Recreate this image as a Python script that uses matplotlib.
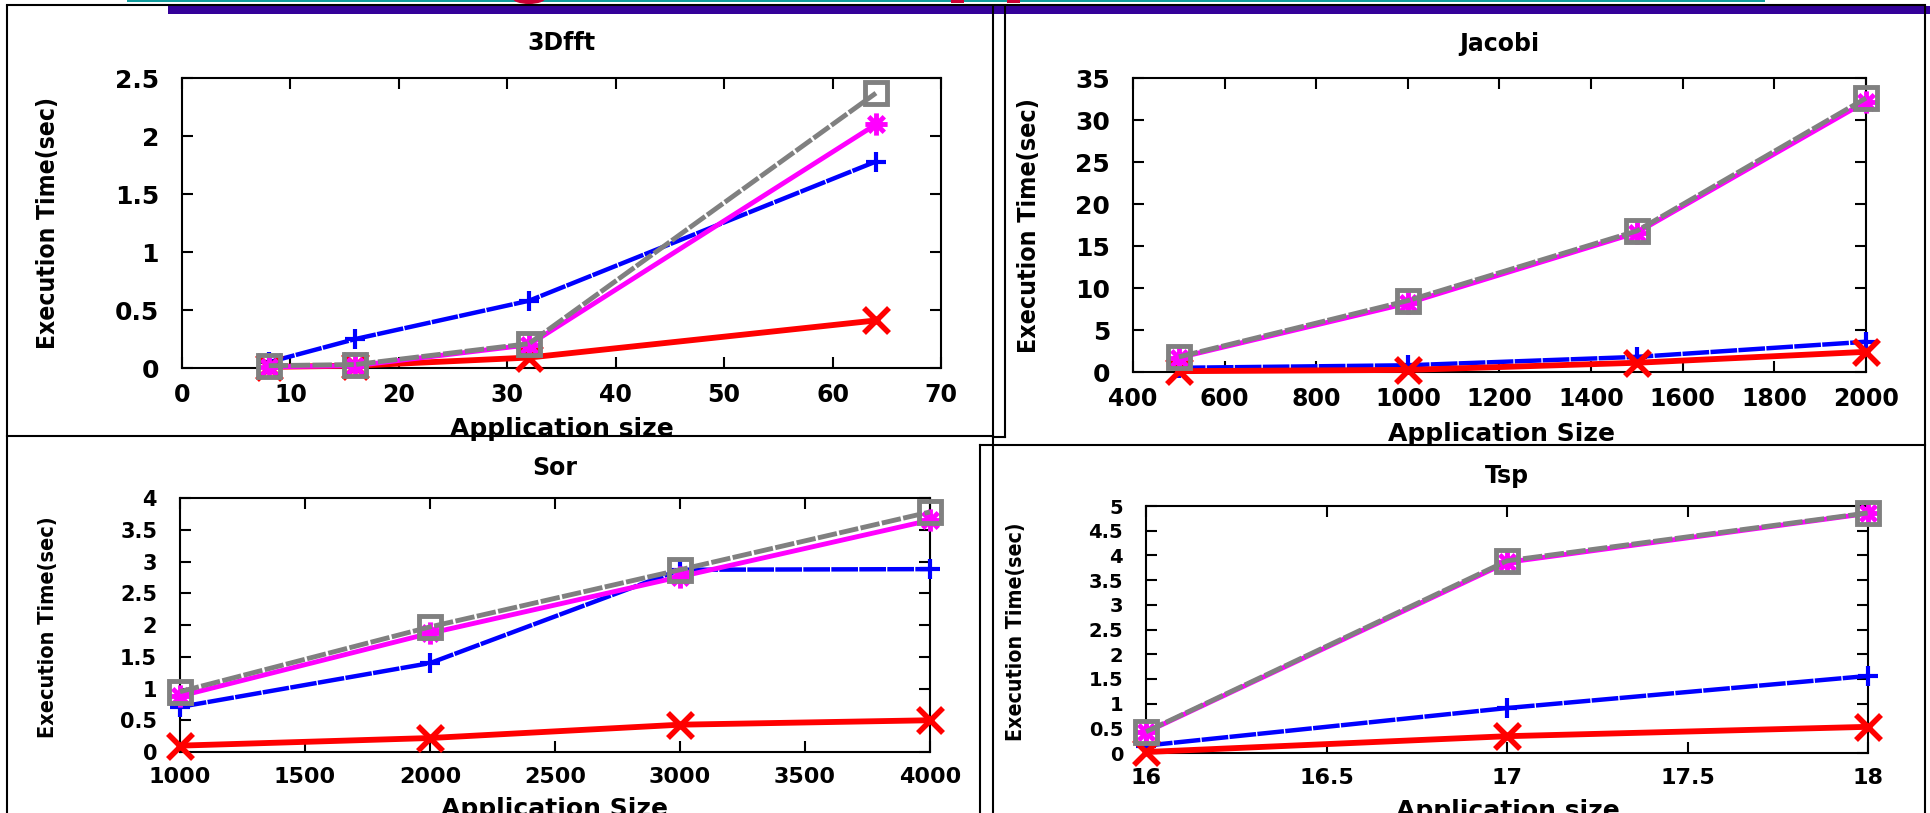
import matplotlib
matplotlib.use('Agg')
import matplotlib.pyplot as plt
from matplotlib.path import Path
from matplotlib.patches import Rectangle, Ellipse
from matplotlib.ticker import MultipleLocator, FormatStrFormatter
from matplotlib import font_manager

W, H = 1931, 813

# 3Dfft
fft_sizes = [8, 16, 32, 64]
fft_blue = [0.05, 0.25, 0.58, 1.78]
fft_red = [0.01, 0.02, 0.09, 0.41]
fft_magenta = [0.01, 0.02, 0.20, 2.10]
fft_gray = [0.02, 0.03, 0.21, 2.37]

# Jacobi
jacobi_sizes = [500, 1000, 1500, 2000]
jacobi_blue = [0.5, 0.8, 1.8, 3.6]
jacobi_red = [0.1, 0.25, 1.1, 2.4]
jacobi_magenta = [1.7, 8.2, 16.6, 32.2]
jacobi_gray = [1.8, 8.5, 16.8, 32.6]

# Sor
sor_sizes = [1000, 2000, 3000, 4000]
sor_blue = [0.71, 1.40, 2.87, 2.88]
sor_red = [0.10, 0.22, 0.43, 0.50]
sor_magenta = [0.88, 1.87, 2.76, 3.65]
sor_gray = [0.95, 1.97, 2.87, 3.78]

# Tsp
tsp_sizes = [16, 17, 18]
tsp_blue = [0.15, 0.91, 1.56]
tsp_red = [0.02, 0.34, 0.53]
tsp_magenta = [0.42, 3.86, 4.85]
tsp_gray = [0.43, 3.89, 4.86]

titles = ['3Dfft', 'Jacobi', 'Sor', 'Tsp']
xlabels = ['Application size', 'Application Size', 'Application Size', 'Application size']
ylabel = 'Execution Time(sec)'

# gnuplot style "*" point: a plus and a cross on top of each other
ASTERISK = Path(
    [(-1, 0), (1, 0), (0, -1), (0, 1), (-0.7, -0.7), (0.7, 0.7), (-0.7, 0.7), (0.7, -0.7)],
    [Path.MOVETO, Path.LINETO] * 4,
)

plt.rcParams['font.family'] = ['DejaVu Sans']
plt.rcParams['font.weight'] = 'bold'


def narrow_font():
    # the y labels in the slide are squeezed; use a narrow/condensed bold face if there is one
    for f in font_manager.fontManager.ttflist:
        bold = f.weight in ('bold', 700, 'heavy', 800)
        if bold and ('Narrow' in f.name or 'condensed' in str(f.stretch)):
            return font_manager.FontProperties(fname=f.fname)
    return font_manager.FontProperties(family='Liberation Sans', weight='bold')


def draw_panel(fig, box, sizes, blue, red, magenta, gray, xlim, ylim, xstep, ystep, xfs, yfs):
    l, t, r, b = box
    ax = fig.add_axes([l / W, 1 - b / H, (r - l) / W, (b - t) / H])
    ax.plot(sizes, blue, color='#0000ff', lw=3.2, ls=(0, (6, 0.3)), marker='+', ms=15, mew=3,
            clip_on=False, zorder=3)
    ax.plot(sizes, red, color='#ff0000', lw=4.2, marker='x', ms=18, mew=4, clip_on=False, zorder=4)
    ax.plot(sizes, magenta, color='#ff00ff', lw=3.5, marker=ASTERISK, ms=16, mew=3.5,
            clip_on=False, zorder=5)
    ax.plot(sizes, gray, color='#808080', lw=3.5, ls=(0, (4, 0.5)), marker='s', ms=16, mew=3.5,
            mfc='none', clip_on=False, zorder=6)
    ax.set_xlim(xlim)
    ax.set_ylim(ylim)
    ax.xaxis.set_major_locator(MultipleLocator(xstep))
    ax.yaxis.set_major_locator(MultipleLocator(ystep))
    ax.xaxis.set_major_formatter(FormatStrFormatter('%g'))
    ax.yaxis.set_major_formatter(FormatStrFormatter('%g'))
    ax.tick_params(direction='in', top=True, right=True, length=8, width=1.5)
    ax.tick_params(axis='x', labelsize=xfs, pad=11)
    ax.tick_params(axis='y', labelsize=yfs, pad=16.5)
    for sp in ax.spines.values():
        sp.set_linewidth(1.5)
    return ax


def main():
    fig = plt.figure(figsize=(W / 100, H / 100), dpi=100)

    draw_panel(fig, (182, 78, 941, 368), fft_sizes, fft_blue, fft_red, fft_magenta, fft_gray,
               (0, 70), (0, 2.5), 10, 0.5, 17, 18)
    draw_panel(fig, (1133, 78, 1866, 372), jacobi_sizes, jacobi_blue, jacobi_red, jacobi_magenta,
               jacobi_gray, (400, 2000), (0, 35), 200, 5, 17, 18)
    draw_panel(fig, (180, 498, 930, 752), sor_sizes, sor_blue, sor_red, sor_magenta, sor_gray,
               (1000, 4000), (0, 4), 500, 0.5, 16, 15)
    draw_panel(fig, (1146, 506, 1868, 753), tsp_sizes, tsp_blue, tsp_red, tsp_magenta, tsp_gray,
               (16, 18), (0, 5), 0.5, 0.5, 16, 14)

    # overlay in pixel coordinates for slide frames, titles and axis labels
    ov = fig.add_axes([0, 0, 1, 1], zorder=10)
    ov.set_xlim(0, W)
    ov.set_ylim(H, 0)
    ov.axis('off')
    ov.patch.set_visible(False)

    # slide decoration along the top edge
    ov.add_patch(Rectangle((127, 0), 1765 - 127, 2.5, color='#109c9c', lw=0))
    ov.add_patch(Rectangle((168, 6.5), W - 168, 7.5, color='#330099', lw=0))
    ov.add_patch(Ellipse((529, -2), 33, 12, color='#cc0033', lw=0))
    ov.add_patch(Rectangle((951, 0), 13, 3, color='#cc0033', lw=0))
    ov.add_patch(Rectangle((1007, 0), 13, 3, color='#cc0033', lw=0))
    ov.plot([7, 1925], [5.5, 5.5], color='black', lw=1.5)

    # panel frames
    frame = [
        ([7.5, 7.5], [6, H]), ([7.5, 993], [435.5, 435.5]), ([993, 993], [6, H]),
        ([1005, 1005], [6, 437]), ([993, 1005], [437, 437]),
        ([980, 1925], [445, 445]), ([980, 980], [445, H]), ([1925, 1925], [6, H]),
    ]
    for xs, ys in frame:
        ov.plot(xs, ys, color='black', lw=1.5, clip_on=False)

    # titles
    for txt, x, y in zip(titles, [561, 1499, 555, 1507], [50, 51, 475, 483]):
        ov.text(x, y, txt, ha='center', va='baseline', fontsize=17, fontweight='bold')

    # x labels, cut off by the frames like in the slide
    clips = [(7, 6, 986, 429), (1005, 6, 920, 438), None, None]
    for txt, x, y, c in zip(xlabels, [562, 1502, 555, 1508], [436, 441, 816, 818], clips):
        t = ov.text(x, y, txt, ha='center', va='baseline', fontsize=18, fontweight='bold')
        if c is not None:
            t.set_clip_path(Rectangle((c[0], c[1]), c[2], c[3], transform=ov.transData))

    # y labels: fit the length of each label to the slide
    fp = narrow_font()
    renderer = fig.canvas.get_renderer()
    for x, y, length in zip([48, 1029, 48, 1016], [223, 226, 627, 632], [252, 256, 222, 218]):
        t = ov.text(x, y, ylabel, rotation=90, ha='center', va='center', fontproperties=fp,
                    fontsize=20)
        ext = t.get_window_extent(renderer)
        t.set_fontsize(20 * length / ext.height)

    fig.savefig('out.png', dpi=100)


if __name__ == "__main__":
    main()
